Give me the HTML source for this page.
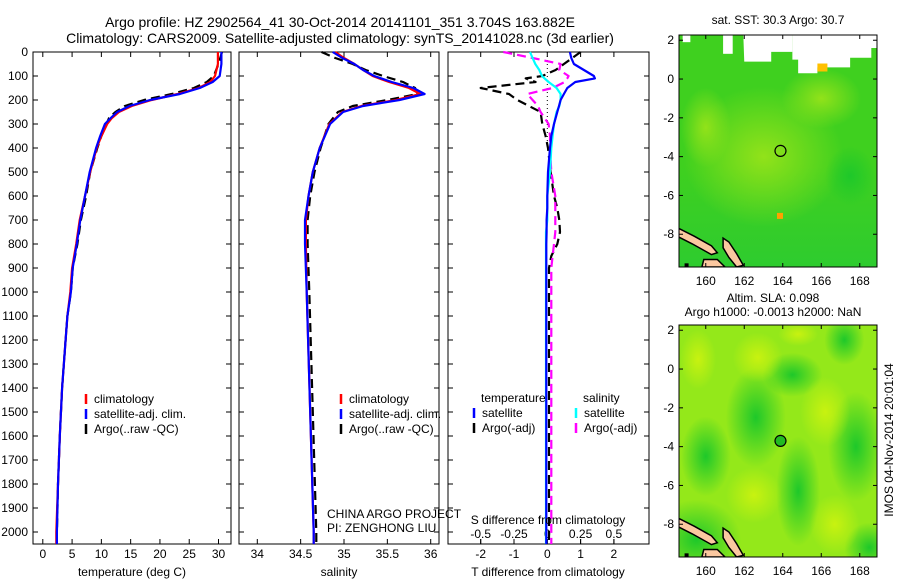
<!DOCTYPE html>
<html><head><meta charset="utf-8"><style>
html,body{margin:0;padding:0;background:#fff;}
svg{display:block;font-family:"Liberation Sans",sans-serif;}
text{font-size:12px;fill:#000;}
</style></head><body>
<svg id="c" width="900" height="580" viewBox="0 0 900 580" xmlns="http://www.w3.org/2000/svg">
<defs>
<radialGradient id="g1c"><stop offset="0" stop-color="#92e21a"/><stop offset="1" stop-color="#92e21a" stop-opacity="0"/></radialGradient>
<radialGradient id="gDark"><stop offset="0" stop-color="#1ec82a"/><stop offset="1" stop-color="#1ec82a" stop-opacity="0"/></radialGradient>
<radialGradient id="gLight"><stop offset="0" stop-color="#c8f210"/><stop offset="1" stop-color="#c8f210" stop-opacity="0"/></radialGradient>
<linearGradient id="gBand" x1="0" y1="0" x2="0" y2="1"><stop offset="0" stop-color="#22c83a" stop-opacity="0"/><stop offset="1" stop-color="#22c83a" stop-opacity="0.7"/></linearGradient>
<clipPath id="clipM1"><rect x="679" y="35" width="198" height="232"/></clipPath>
<clipPath id="clipM2"><rect x="679" y="325" width="198" height="232"/></clipPath>
</defs>
<text x="340" y="27" text-anchor="middle" style="font-size:14px">Argo profile: HZ 2902564_41 30-Oct-2014 20141101_351 3.704S 163.882E</text>
<text x="340" y="43" text-anchor="middle" style="font-size:14px">Climatology: CARS2009. Satellite-adjusted climatology: synTS_20141028.nc (3d earlier)</text>
<g id="p1"></g>
<g id="p2"></g>
<g id="p3"></g>
<g id="m1"></g>
<g id="m2"></g>
<text transform="translate(893,440) rotate(-90)" text-anchor="middle">IMOS 04-Nov-2014 20:01:04</text>
</svg>
<script>
// ---- data ----
const depthT = [0,50,100,125,150,175,200,225,250,275,300,350,400,500,600,700,800,900,1000,1100,1200,1400,1600,1800,2000,2050];
const tempClim = [29.9,29.9,29.4,28.6,26.6,23.0,18.6,15.2,13.0,11.8,11.0,10.0,9.2,8.1,7.2,6.3,5.7,5.0,4.7,4.2,3.9,3.3,2.9,2.6,2.3,2.3];
const tempSat  = [30.5,30.5,30.2,29.0,26.8,23.4,18.3,14.8,12.7,11.6,10.6,9.8,9.1,8.0,7.2,6.4,5.8,5.1,4.8,4.2,3.9,3.3,2.9,2.6,2.4,2.4];
const tempArgo = [30.6,30.0,29.2,28.0,25.8,22.0,17.3,14.0,12.4,11.3,10.9,10.0,9.3,8.1,7.4,6.5,5.9,5.1,4.8,4.2,3.9,3.3,2.9,2.6,2.4,2.4];
const depthS = [0,25,50,75,100,125,150,175,200,225,250,300,400,500,600,700,800,1000,1500,2000,2050];
const salClim = [34.90,35.00,35.12,35.22,35.33,35.52,35.75,35.88,35.60,35.20,34.98,34.83,34.72,34.64,34.59,34.56,34.56,34.57,34.61,34.65,34.65];
const salSat  = [34.87,34.98,35.12,35.22,35.35,35.55,35.80,35.93,35.64,35.22,34.99,34.84,34.72,34.64,34.59,34.55,34.55,34.57,34.61,34.65,34.65];
const salArgo = [34.74,34.90,35.10,35.25,35.45,35.68,35.82,35.85,35.50,35.10,34.93,34.82,34.73,34.66,34.61,34.58,34.58,34.60,34.64,34.68,34.68];
const depthD = [0,25,50,75,100,110,125,150,175,200,225,250,300,350,400,500,600,650,700,750,800,850,900,1000,1500,2000,2050];
const dTsat  = [0.68,0.72,0.80,1.10,1.40,1.43,0.84,0.60,0.50,0.40,0.35,0.30,0.20,0.12,0.08,0.02,0.00,0.00,-0.02,-0.02,-0.03,-0.03,-0.03,-0.03,-0.03,-0.03,-0.03];
const dTargo = [1.00,0.75,0.50,0.25,-0.15,-0.65,-0.35,-2.00,-1.15,-0.90,-0.55,-0.20,-0.15,-0.05,0.02,0.10,0.20,0.30,0.36,0.38,0.30,0.12,0.05,0.05,0.05,0.05,0.05];
const dSsat  = [-0.13,-0.11,-0.09,-0.06,-0.04,-0.02,0.01,0.07,0.10,0.10,0.09,0.07,0.05,0.04,0.03,0.02,0.00,0.00,0.00,-0.01,-0.01,-0.01,-0.01,-0.01,-0.01,-0.01,-0.01];
const dSargo = [-0.33,-0.11,0.10,0.09,0.16,0.15,0.13,0.04,-0.15,-0.11,-0.07,-0.05,0.01,0.02,0.02,0.03,0.06,0.06,0.06,0.06,0.05,0.04,0.03,0.03,0.03,0.03,0.03];
const depthTicks = [0,100,200,300,400,500,600,700,800,900,1000,1100,1200,1300,1400,1500,1600,1700,1800,1900,2000];
const tempTicks = [0,5,10,15,20,25,30];
const salTicks = [34,34.5,35,35.5,36];
const dTTicks = [-2,-1,0,1,2];
const dSTicks = [-0.5,-0.25,0,0.25,0.5];
const lonTicks = [160,162,164,166,168];
const latTicks = [2,0,-2,-4,-6,-8];
const floatLon = 163.882, floatLat = -3.704;

const NS='http://www.w3.org/2000/svg';
function el(tag,attrs,parent,txt){const e=document.createElementNS(NS,tag);for(const k in attrs)e.setAttribute(k,attrs[k]);if(txt!==undefined)e.textContent=txt;parent.appendChild(e);return e;}
const TOP=52, BOT=544;
const yD = d => TOP + d*0.24;

function panel(g,x0,x1,xs,ticks,fmt,name){
  const f=el('rect',{x:x0,y:TOP,width:x1-x0,height:BOT-TOP,fill:'none',stroke:'#000','stroke-width':1},g);
  
  
  ticks.forEach(t=>{const x=xs(t);
    el('line',{x1:x,y1:TOP,x2:x,y2:TOP+5,stroke:'#000'},g);
    el('line',{x1:x,y1:BOT,x2:x,y2:BOT-5,stroke:'#000'},g);
    if(fmt){const tl=el('text',{x:x,y:558,'text-anchor':'middle'},g,fmt(t));
      
      }
  });
  depthTicks.forEach(d=>{const y=yD(d);
    el('line',{x1:x0,y1:y,x2:x0+5,y2:y,stroke:'#000'},g);
    el('line',{x1:x1,y1:y,x2:x1-5,y2:y,stroke:'#000'},g);});
}
function line(g,xs,vals,depths,color,dash,name){
  const pts=vals.map((v,i)=>xs(v).toFixed(1)+','+yD(depths[i]).toFixed(1)).join(' ');
  const p=el('polyline',{points:pts,fill:'none',stroke:color,'stroke-width':2.2,'stroke-linejoin':'round'},g);
  if(dash)p.setAttribute('stroke-dasharray','9,5');
  
  
}
function legend(g,x,y,color,label,dash){
  el('line',{x1:x,y1:y-9,x2:x,y2:y+1,stroke:color,'stroke-width':2.5},g);
  const t=el('text',{x:x+8,y:y},g,label);
  
  
}

// Panel 1
const p1=document.getElementById('p1');
const xT = t => 42.8 + t*5.857;
panel(p1,33,231,xT,tempTicks,t=>t,'temperature');
depthTicks.forEach(d=>{const t=el('text',{x:28,y:yD(d)+4,'text-anchor':'end'},p1,d);
  
  });
line(p1,xT,tempArgo,depthT,'#000',true,'temp-argo-line');
line(p1,xT,tempClim,depthT,'#f00',false,'temp-climatology-line');
line(p1,xT,tempSat,depthT,'#00f',false,'temp-satellite-line');
legend(p1,86,403,'#f00','climatology');
legend(p1,86,418,'#00f','satellite-adj. clim.');
legend(p1,86,433,'#000','Argo(..raw -QC)');
el('text',{x:132,y:576,'text-anchor':'middle'},p1,'temperature (deg C)');

// Panel 2
const p2=document.getElementById('p2');
const xS = s => 257.3 + (s-34)*86.7;
panel(p2,239,439,xS,salTicks,s=>s,'salinity');
line(p2,xS,salArgo,depthS,'#000',true,'sal-argo-line');
line(p2,xS,salClim,depthS,'#f00',false,'sal-climatology-line');
line(p2,xS,salSat,depthS,'#00f',false,'sal-satellite-line');
legend(p2,341,403,'#f00','climatology');
legend(p2,341,418,'#00f','satellite-adj. clim.');
legend(p2,341,433,'#000','Argo(..raw -QC)');
el('text',{x:327,y:518},p2,'CHINA ARGO PROJECT');
el('text',{x:327,y:532},p2,'PI: ZENGHONG LIU');
el('text',{x:339,y:576,'text-anchor':'middle'},p2,'salinity');

// Panel 3
const p3=document.getElementById('p3');
const xDT = v => 547.3 + v*33.3;
const xDS = v => 547.3 + v*133.2;
panel(p3,448,649,xDT,dTTicks,t=>t,'difference');
dSTicks.forEach(t=>{const x=xDS(t);
  el('line',{x1:x,y1:BOT-5,x2:x,y2:BOT,stroke:'#000'},p3);
  const tl=el('text',{x:x,y:538,'text-anchor':'middle'},p3,t);
  
  });
el('line',{x1:547.3,y1:TOP,x2:547.3,y2:yD(400),stroke:'#000','stroke-dasharray':'1,3'},p3);
line(p3,xDT,dTargo,depthD,'#000',true,'tdiff-argo-line');
line(p3,xDS,dSargo,depthD,'#f0f',true,'sdiff-argo-line');
line(p3,xDS,dSsat,depthD,'#0ff',false,'sdiff-satellite-line');
line(p3,xDT,dTsat,depthD,'#00f',false,'tdiff-satellite-line');
el('text',{x:481,y:402},p3,'temperature');
el('text',{x:583,y:402},p3,'salinity');
legend(p3,474,417,'#00f','satellite');
legend(p3,474,432,'#000','Argo(-adj)');
legend(p3,576,417,'#0ff','satellite');
legend(p3,576,432,'#f0f','Argo(-adj)');
el('text',{x:548,y:524,'text-anchor':'middle'},p3,'S difference from climatology');
el('text',{x:548,y:576,'text-anchor':'middle'},p3,'T difference from climatology');

// Maps
const LON0=158.61, LON1=168.9, LAT0=2.27, LAT1=-9.69;
function mapAt(g,top){
  const X = lon => 679 + (lon-LON0)*19.25;
  const Y = lat => top + (LAT0-lat)*19.4;
  return {X,Y};
}
function islands(g,X,Y){
  const polys=[
    [[158.6,-7.7],[159.4,-8.1],[160.3,-8.6],[160.6,-8.95],[160.3,-9.05],[159.3,-8.5],[158.6,-8.15]],
    [[160.9,-8.2],[161.2,-8.4],[161.6,-9.0],[161.95,-9.6],[161.6,-9.69],[161.2,-9.2],[160.9,-8.7]],
    [[159.9,-9.3],[160.6,-9.3],[161.0,-9.69],[159.8,-9.69]]];
  polys.forEach(p=>{const s=el('polygon',{points:p.map(q=>X(q[0]).toFixed(1)+','+Y(q[1]).toFixed(1)).join(' '),fill:'#fbc8a0',stroke:'#000','stroke-width':1.5},g);
    
    });
  el('rect',{x:X(158.9),y:Y(-9.5),width:4,height:4,fill:'#000'},g);
}
function mapAxes(g,X,Y,top){
  el('rect',{x:679,y:top,width:198,height:232,fill:'none',stroke:'#000'},g);
  lonTicks.forEach(l=>{const x=X(l);
    el('line',{x1:x,y1:top,x2:x,y2:top+4,stroke:'#000'},g);
    el('line',{x1:x,y1:top+232,x2:x,y2:top+228,stroke:'#000'},g);
    const t=el('text',{x:x,y:top+250,'text-anchor':'middle'},g,l);
    
    });
  latTicks.forEach(l=>{const y=Y(l);
    el('line',{x1:679,y1:y,x2:683,y2:y,stroke:'#000'},g);
    el('line',{x1:877,y1:y,x2:873,y2:y,stroke:'#000'},g);
    const t=el('text',{x:674,y:y+4,'text-anchor':'end'},g,l);
    
    });
}
// Map 1
(function(){
  const g=document.getElementById('m1'); const top=35; const {X,Y}=mapAt(g,top);
  const c=el('g',{'clip-path':'url(#clipM1)'},g);
  el('rect',{x:679,y:top,width:198,height:232,fill:'#3fd01f'},c);
  el('rect',{x:679,y:Y(-4.5),width:198,height:120,fill:'url(#gBand)'},c);
  el('ellipse',{cx:X(163),cy:Y(-4),rx:80,ry:70,fill:'url(#g1c)'},c);
  el('ellipse',{cx:X(166),cy:Y(-1),rx:40,ry:30,fill:'url(#g1c)'},c);
  el('ellipse',{cx:X(160),cy:Y(-2.5),rx:25,ry:40,fill:'url(#g1c)'},c);
  el('ellipse',{cx:X(167.5),cy:Y(-5),rx:25,ry:30,fill:'url(#gDark)'},c);
  const white=[[[158.8,2.3],[159.2,2.3],[159.2,1.9],[158.8,1.9]],
    [[160.9,2.3],[161.4,2.3],[161.4,1.3],[160.9,1.3]],
    [[161.95,2.3],[164.5,2.3],[164.5,1.4],[163.4,1.4],[163.4,0.9],[162.0,0.9]],
    [[164.5,2.3],[168.9,2.3],[168.9,1.6],[168.6,1.6],[168.6,1.1],[167.5,1.1],[167.5,0.6],[165.8,0.6],[165.8,0.3],[164.8,0.3],[164.8,1.0],[164.5,1.0]]];
  white.forEach(p=>el('polygon',{points:p.map(q=>X(q[0])+','+Y(q[1])).join(' '),fill:'#fff'},c));
  el('rect',{x:X(165.8),y:Y(0.8),width:10,height:8,fill:'#ffc000'},c);
  el('rect',{x:X(163.7),y:Y(-6.9),width:6,height:6,fill:'#ffa000'},c);
  islands(c,X,Y);
  const m=el('circle',{cx:X(floatLon),cy:Y(floatLat),r:5.5,fill:'none',stroke:'#000','stroke-width':1.2},g);
  
  
  mapAxes(g,X,Y,top);
  el('text',{x:778,y:24,'text-anchor':'middle'},g,'sat. SST: 30.3 Argo: 30.7');
})();
// Map 2
(function(){
  const g=document.getElementById('m2'); const top=325; const {X,Y}=mapAt(g,top);
  const c=el('g',{'clip-path':'url(#clipM2)'},g);
  el('rect',{x:679,y:top,width:198,height:232,fill:'#94e81a'},c);
  [[162.6,-2.5,30,50],[164.8,-6.3,22,55],[167.8,-4,28,55],[160,-4.5,25,40],[167.2,1.5,20,25],[164.5,-0.3,30,22],[159.5,-8.8,45,40],[168.5,-9.2,25,25]].forEach(b=>
    el('ellipse',{cx:X(b[0]),cy:Y(b[1]),rx:b[2],ry:b[3],fill:'url(#gDark)'},c));
  [[162.5,-6.5,28,28],[166.2,-2.2,25,35],[166.7,-8,25,30],[162.7,0.6,25,25],[159.6,0.5,18,30],[164.8,1.8,20,12]].forEach(b=>
    el('ellipse',{cx:X(b[0]),cy:Y(b[1]),rx:b[2],ry:b[3],fill:'url(#gLight)'},c));
  islands(c,X,Y);
  const m=el('circle',{cx:X(floatLon),cy:Y(floatLat),r:5.5,fill:'#22bb22',stroke:'#000','stroke-width':1.2},g);
  
  
  mapAxes(g,X,Y,top);
  el('text',{x:773,y:302,'text-anchor':'middle'},g,'Altim. SLA: 0.098');
  el('text',{x:773,y:316,'text-anchor':'middle'},g,'Argo h1000: -0.0013 h2000: NaN');
})();
</script>
</body></html>
